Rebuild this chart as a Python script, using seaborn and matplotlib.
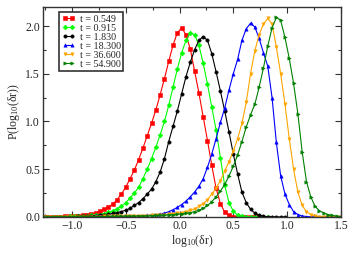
import numpy as np
import matplotlib
matplotlib.use("Agg")
import matplotlib.pyplot as plt
from matplotlib.ticker import MultipleLocator
import seaborn as sns

# bin centres of log10(dr) shared by all curves
log_dr = [-1.26, -1.22, -1.18, -1.14, -1.10, -1.06, -1.02, -0.98, -0.94, -0.90,
          -0.86, -0.82, -0.78, -0.74, -0.70, -0.66, -0.62, -0.58, -0.54, -0.50,
          -0.46, -0.42, -0.38, -0.34, -0.30, -0.26, -0.22, -0.18, -0.14, -0.10,
          -0.06, -0.02, 0.02, 0.06, 0.10, 0.14, 0.18, 0.22, 0.26, 0.30,
          0.34, 0.38, 0.42, 0.46, 0.50, 0.54, 0.58, 0.62, 0.66, 0.70,
          0.74, 0.78, 0.82, 0.86, 0.90, 0.94, 0.98, 1.02, 1.06, 1.10,
          1.14, 1.18, 1.22, 1.26, 1.30, 1.34, 1.38, 1.42, 1.46, 1.50]

p_t0549 = [0.001, 0.001, 0.002, 0.002, 0.003, 0.005, 0.007, 0.010, 0.013, 0.017,
           0.023, 0.030, 0.042, 0.058, 0.080, 0.105, 0.135, 0.180, 0.240, 0.310,
           0.400, 0.490, 0.600, 0.720, 0.850, 0.980, 1.120, 1.280, 1.450, 1.630,
           1.800, 1.930, 1.980, 1.910, 1.760, 1.530, 1.300, 1.050, 0.800, 0.540,
           0.300, 0.140, 0.050, 0.015, 0.004, 0.001, 0.0, 0.0, 0.0, 0.0, 0.0]

p_t0915 = [0.0, 0.001, 0.001, 0.002, 0.003, 0.004, 0.005, 0.006, 0.008, 0.010,
           0.013, 0.016, 0.020, 0.025, 0.035, 0.047, 0.062, 0.085, 0.112, 0.150,
           0.195, 0.250, 0.310, 0.400, 0.500, 0.610, 0.730, 0.860, 1.000, 1.170,
           1.360, 1.550, 1.720, 1.850, 1.930, 1.910, 1.800, 1.610, 1.390, 1.150,
           0.910, 0.620, 0.330, 0.150, 0.060, 0.020, 0.006, 0.002, 0.0, 0.0,
           0.0, 0.0, 0.0]

p_t1830 = [0.0, 0.001, 0.001, 0.001, 0.002, 0.002, 0.003, 0.004, 0.005, 0.007,
           0.009, 0.011, 0.014, 0.018, 0.023, 0.029, 0.036, 0.045, 0.056, 0.070,
           0.090, 0.120, 0.150, 0.190, 0.240, 0.290, 0.370, 0.470, 0.610, 0.790,
           0.950, 1.110, 1.290, 1.470, 1.620, 1.750, 1.850, 1.890, 1.850, 1.710,
           1.520, 1.320, 1.110, 0.890, 0.660, 0.450, 0.260, 0.150, 0.080, 0.040,
           0.018, 0.007, 0.003, 0.001, 0.0, 0.0, 0.0]

p_t18300 = [0.001, 0.001, 0.001, 0.002, 0.002, 0.002, 0.003, 0.003, 0.003, 0.004,
            0.004, 0.004, 0.005, 0.005, 0.006, 0.006, 0.007, 0.007, 0.008, 0.009,
            0.010, 0.011, 0.012, 0.014, 0.016, 0.019, 0.023, 0.030, 0.040, 0.055,
            0.075, 0.100, 0.130, 0.165, 0.210, 0.260, 0.320, 0.400, 0.520, 0.660,
            0.820, 0.990, 1.140, 1.330, 1.500, 1.650, 1.850, 1.970, 2.030, 1.990,
            1.870, 1.720, 1.580, 1.250, 0.780, 0.430, 0.240, 0.130, 0.055, 0.025,
            0.010, 0.004, 0.001, 0.0, 0.0, 0.0, 0.0, 0.0, 0.0, 0.0]

p_t36600 = [0.0, 0.001, 0.001, 0.001, 0.001, 0.002, 0.002, 0.002, 0.002, 0.003,
            0.003, 0.003, 0.004, 0.004, 0.005, 0.005, 0.006, 0.006, 0.007, 0.008,
            0.009, 0.010, 0.011, 0.012, 0.014, 0.016, 0.018, 0.021, 0.024, 0.028,
            0.033, 0.038, 0.045, 0.055, 0.068, 0.085, 0.110, 0.140, 0.180, 0.240,
            0.300, 0.380, 0.480, 0.580, 0.690, 0.820, 0.980, 1.200, 1.500, 1.740,
            1.910, 2.020, 2.080, 2.020, 1.780, 1.500, 1.180, 0.820, 0.500, 0.260,
            0.120, 0.055, 0.025, 0.010, 0.004, 0.001, 0.0, 0.0, 0.0, 0.0]

p_t54900 = [0.0, 0.001, 0.001, 0.001, 0.001, 0.001, 0.002, 0.002, 0.002, 0.002,
            0.003, 0.003, 0.003, 0.004, 0.004, 0.005, 0.005, 0.006, 0.007, 0.008,
            0.008, 0.009, 0.010, 0.011, 0.012, 0.013, 0.015, 0.017, 0.019, 0.022,
            0.025, 0.028, 0.032, 0.038, 0.045, 0.055, 0.070, 0.090, 0.120, 0.160,
            0.210, 0.270, 0.340, 0.430, 0.530, 0.650, 0.790, 0.940, 1.070, 1.180,
            1.360, 1.560, 1.790, 1.980, 2.090, 2.060, 1.880, 1.660, 1.400, 1.080,
            0.680, 0.370, 0.210, 0.110, 0.065, 0.040, 0.025, 0.015, 0.008, 0.004]

labels = ["t = 0.549", "t = 0.915", "t = 1.830", "t = 18.300", "t = 36.600", "t = 54.900"]
series = [p_t0549, p_t0915, p_t1830, p_t18300, p_t36600, p_t54900]
colors = ["#ff0000", "#00ff00", "#000000", "#0000ff", "#ffa500", "#008000"]
markers = ["s", "D", "o", "^", "v", ">"]

sns.set_style("ticks")
plt.rcParams["font.family"] = ["Liberation Serif", "DejaVu Serif"]
plt.rcParams["mathtext.fontset"] = "custom"
plt.rcParams["mathtext.rm"] = "Liberation Serif"
plt.rcParams["mathtext.it"] = "Liberation Serif:italic"

fig = plt.figure(figsize=(3.6, 2.57), dpi=100)
ax = fig.add_axes([0.119, 0.156, 0.828, 0.817])

for y, lab, c, m in zip(series, labels, colors, markers):
    sns.lineplot(x=log_dr[:len(y)], y=y, ax=ax, color=c, marker=m, markersize=2.4,
                 markeredgecolor=c, markeredgewidth=0.4, linewidth=0.8, label=lab)

ax.set_xlim(-1.27, 1.5)
ax.set_ylim(0, 2.2)
ax.xaxis.set_major_locator(MultipleLocator(0.5))
ax.xaxis.set_minor_locator(MultipleLocator(0.25))
ax.yaxis.set_major_locator(MultipleLocator(0.5))
ax.yaxis.set_minor_locator(MultipleLocator(0.25))
ax.tick_params(which="both", direction="in", top=True, right=True,
               labelsize=8.5, pad=2, width=0.8, color="#333333")
ax.tick_params(which="major", length=4.5)
ax.tick_params(which="minor", length=2.5)
for s in ax.spines.values():
    s.set_linewidth(1.0)
    s.set_color("#333333")

ax.set_xlabel("log$_{10}$(δr)", fontsize=8.5, labelpad=1)
ax.set_ylabel("P(log$_{10}$(δr))", fontsize=8.5, labelpad=2)

leg = ax.legend(loc="upper left", bbox_to_anchor=(0.055, 0.975), fontsize=7.2,
                numpoints=2, handlelength=1.3, handletextpad=0.5,
                labelspacing=0.0, borderpad=0.25, borderaxespad=0.0,
                fancybox=False, framealpha=1)
leg.get_frame().set_edgecolor("#333333")
leg.get_frame().set_linewidth(1.2)

fig.savefig("out.png", dpi=100)
